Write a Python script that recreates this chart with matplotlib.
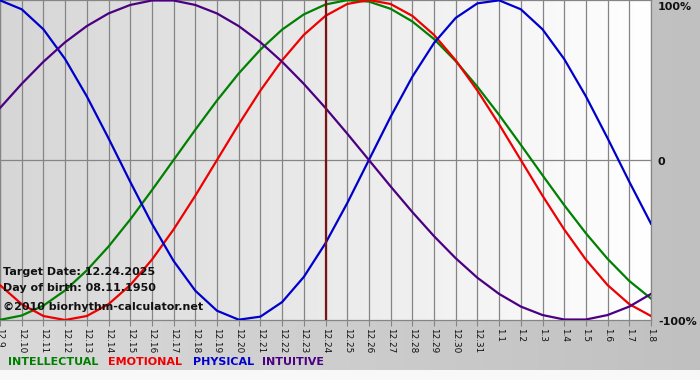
import matplotlib
matplotlib.use("Agg")
import matplotlib.pyplot as plt
import numpy as np
from matplotlib.colors import LinearSegmentedColormap

dates = ["12.9", "12.10", "12.11", "12.12", "12.13", "12.14", "12.15", "12.16",
         "12.17", "12.18", "12.19", "12.20", "12.21", "12.22", "12.23", "12.24",
         "12.25", "12.26", "12.27", "12.28", "12.29", "12.30", "12.31", "1.1",
         "1.2", "1.3", "1.4", "1.5", "1.6", "1.7", "1.8"]

intellectual = [-0.999, -0.972, -0.910, -0.815, -0.690, -0.541, -0.372, -0.189,
                0.000, 0.189, 0.372, 0.541, 0.690, 0.815, 0.910, 0.972,
                0.999, 0.990, 0.945, 0.866, 0.756, 0.618, 0.458, 0.282,
                0.095, -0.095, -0.282, -0.458, -0.618, -0.756, -0.866]

emotional = [-0.782, -0.901, -0.975, -1.000, -0.975, -0.901, -0.782, -0.623,
             -0.434, -0.223, 0.000, 0.223, 0.434, 0.623, 0.782, 0.901,
             0.975, 1.000, 0.975, 0.901, 0.782, 0.623, 0.434, 0.223,
             0.000, -0.223, -0.434, -0.623, -0.782, -0.901, -0.975]

physical = [0.998, 0.942, 0.817, 0.631, 0.398, 0.136, -0.136, -0.398,
            -0.631, -0.817, -0.942, -0.998, -0.979, -0.888, -0.731, -0.520,
            -0.270, 0.000, 0.270, 0.520, 0.731, 0.888, 0.979, 0.998,
            0.942, 0.817, 0.631, 0.398, 0.136, -0.136, -0.398]

intuitive = [0.325, 0.476, 0.614, 0.736, 0.837, 0.916, 0.969, 0.997,
             0.997, 0.969, 0.916, 0.837, 0.736, 0.614, 0.476, 0.325,
             0.165, 0.000, -0.165, -0.325, -0.476, -0.614, -0.736, -0.837,
             -0.916, -0.969, -0.997, -0.997, -0.969, -0.916, -0.837]

target_label = "12.24"
info_lines = ["Target Date: 12.24.2025", "Day of birth: 08.11.1950",
              "\u00a92010 biorhythm-calculator.net"]
legend_names = ["INTELLECTUAL", "EMOTIONAL", "PHYSICAL", "INTUITIVE"]
legend_colors = ["#008000", "#ee0000", "#0000cc", "#4b0082"]
y_labels = ["100%", "0", "-100%"]

W, H = 700, 380
fig = plt.figure(figsize=(W / 100, H / 100), dpi=100, facecolor="#f8f8f8")

# outer background gradient
bg = fig.add_axes([0, 10 / H, 1, 370 / H], zorder=-10)
bg.axis("off")
cmap_bg = LinearSegmentedColormap.from_list("bg", ["#dadada", "#c0c0c0"])
bg.imshow(np.linspace(0, 1, 256).reshape(1, -1), aspect="auto", cmap=cmap_bg,
          extent=[0, 1, 0, 1])
bg.set_xlim(0, 1)
bg.set_ylim(0, 1)

ax = fig.add_axes([0, (H - 320) / H, 651 / W, 320 / H])
x = np.arange(len(dates))
ax.set_xlim(0, len(dates) - 1)
ax.set_ylim(-1, 1)

cmap_pl = LinearSegmentedColormap.from_list("pl", ["#d6d6d6", "#ffffff"])
ax.imshow(np.linspace(0, 1, 256).reshape(1, -1), aspect="auto", cmap=cmap_pl,
          extent=[0, len(dates) - 1, -1, 1], zorder=0)

gridc = "#858585"
for xi in x:
    ax.axvline(xi, color=gridc, lw=0.9, zorder=1)
ax.axhline(0, color=gridc, lw=0.9, zorder=1)

series = [intellectual, emotional, physical, intuitive]
for vals, col in zip(series, legend_colors):
    ax.plot(x, vals, color=col, lw=1.6, zorder=3, solid_joinstyle="round")

ti = dates.index(target_label)
ax.axvline(x[ti], color="#7a1414", lw=1.6, zorder=4)

for s in ax.spines.values():
    s.set_color(gridc)
    s.set_linewidth(0.9)

ax.set_xticks(x)
ax.set_xticklabels(dates, rotation=270, fontsize=6.4, fontfamily="DejaVu Sans",
                   color="#111111")
ax.tick_params(axis="x", length=4, width=0.8, color=gridc, pad=1.5)
ax.set_yticks([])

for i, line in enumerate(info_lines):
    fig.text(3 / W, 1 - [272, 288, 307][i] / H, line, fontsize=8, fontweight="bold",
             ha="left", va="center", color="#111111", zorder=6)

# right-side labels
for lab, yp in zip(y_labels, [7, 162, 322]):
    fig.text(658 / W, 1 - yp / H, lab, fontsize=8, fontweight="bold",
             ha="left", va="center", color="#111111")

# legend texts
lx = [8, 108, 193, 262]
for name, col, xp in zip(legend_names, legend_colors, lx):
    fig.text(xp / W, 1 - 362 / H, name, fontsize=8, fontweight="bold",
             ha="left", va="center", color=col)

fig.savefig("out.png", dpi=100, facecolor=fig.get_facecolor())
